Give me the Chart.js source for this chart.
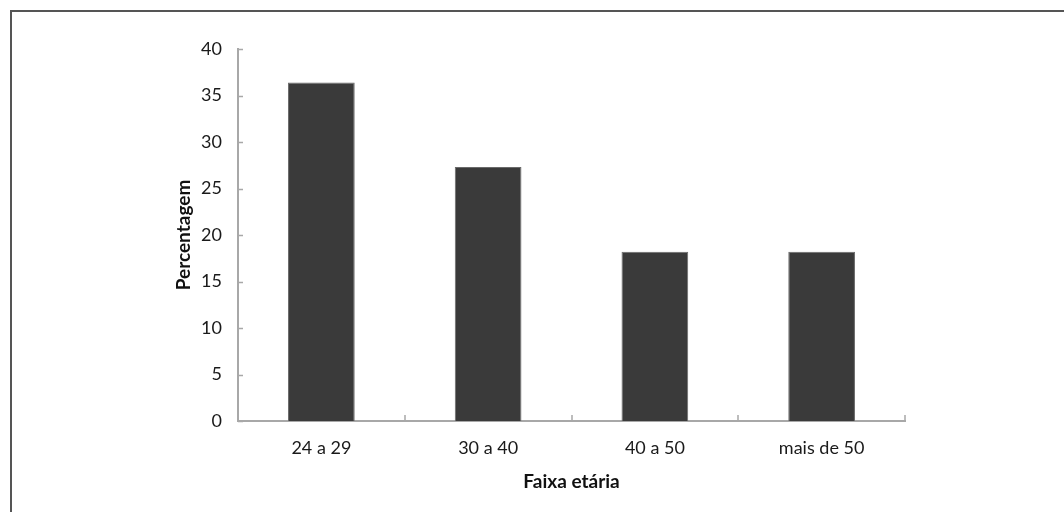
<!DOCTYPE html>
<html>
<head>
<meta charset="utf-8">
<script src="https://cdn.jsdelivr.net/npm/chart.js@4"></script>
<style>
  html, body { margin: 0; padding: 0; background: #fff; overflow: hidden; }
  #wrap { position: relative; width: 1064px; height: 512px; }
  #frame {
    position: absolute; left: 10px; top: 10px; width: 1100px; height: 600px;
    border-top: 2px solid #555; border-left: 2px solid #555;
    pointer-events: none;
  }
</style>
</head>
<body>
<div id="wrap">
  <canvas id="myChart" width="1064" height="512"></canvas>
  <div id="frame"></div>
</div>
<script>
// data
const categories = ['24 a 29', '30 a 40', '40 a 50', 'mais de 50'];
const percentages = [36.4, 27.3, 18.2, 18.2];
const yTicks = [0, 5, 10, 15, 20, 25, 30, 35, 40];

const axisColor = '#a8a8a8';
const fontFamily = 'Lato, "Open Sans", sans-serif';

// small inward tick marks on both axes (like the original)
const innerTicks = {
    id: 'innerTicks',
    afterDatasetsDraw(chart) {
        const ctx = chart.ctx;
        const area = chart.chartArea;
        const xs = chart.scales.x;
        const ys = chart.scales.y;
        ctx.save();
        ctx.strokeStyle = axisColor;
        ctx.lineWidth = 1.5;
        ctx.beginPath();
        yTicks.forEach(v => {
            const y = Math.round(ys.getPixelForValue(v)) + 0.5;
            ctx.moveTo(area.left, y);
            ctx.lineTo(area.left + 5, y);
        });
        const half = (xs.getPixelForValue(1) - xs.getPixelForValue(0)) / 2;
        for (let i = 0; i < categories.length; i++) {
            const x = Math.round(xs.getPixelForValue(i) + half);
            ctx.moveTo(x, area.bottom);
            ctx.lineTo(x, area.bottom - 6);
        }
        ctx.stroke();
        ctx.restore();
    }
};

const data = {
    labels: categories,
    datasets: [{
        data: percentages,
        backgroundColor: '#3a3a3a',
        borderColor: '#6a6a6a',
        borderWidth: 1,
        barPercentage: 0.4,
        categoryPercentage: 1.0
    }]
};

const config = {
    type: 'bar',
    data,
    options: {
        responsive: false,
        animation: false,
        layout: {
            padding: { left: 168, right: 159, top: 49, bottom: 15 }
        },
        plugins: {
            legend: { display: false },
            tooltip: { enabled: false }
        },
        scales: {
            x: {
                afterFit(scale) { scale.height = 76; },
                grid: { display: false, drawTicks: false },
                border: { display: true, color: axisColor, width: 2 },
                ticks: {
                    color: '#1a1a1a',
                    padding: 16,
                    font: { family: fontFamily, size: 18 }
                },
                title: {
                    display: true,
                    text: 'Faixa etária',
                    color: '#111',
                    padding: { top: 4, bottom: 4 },
                    font: { family: fontFamily, size: 19, weight: 'bold' }
                }
            },
            y: {
                min: 0,
                max: 40,
                afterFit(scale) { scale.width = 70; },
                afterBuildTicks(scale) {
                    scale.ticks = yTicks.map(v => ({ value: v }));
                },
                grid: { display: false, drawTicks: false },
                border: { display: true, color: axisColor, width: 2 },
                ticks: {
                    color: '#1a1a1a',
                    padding: 16,
                    font: { family: fontFamily, size: 18 }
                },
                title: {
                    display: true,
                    text: 'Percentagem',
                    color: '#111',
                    padding: { top: 4, bottom: 4 },
                    font: { family: fontFamily, size: 19, weight: 'bold' }
                }
            }
        }
    },
    plugins: [innerTicks]
};

const myChart = new Chart(document.getElementById('myChart'), config);
</script>
</body>
</html>
